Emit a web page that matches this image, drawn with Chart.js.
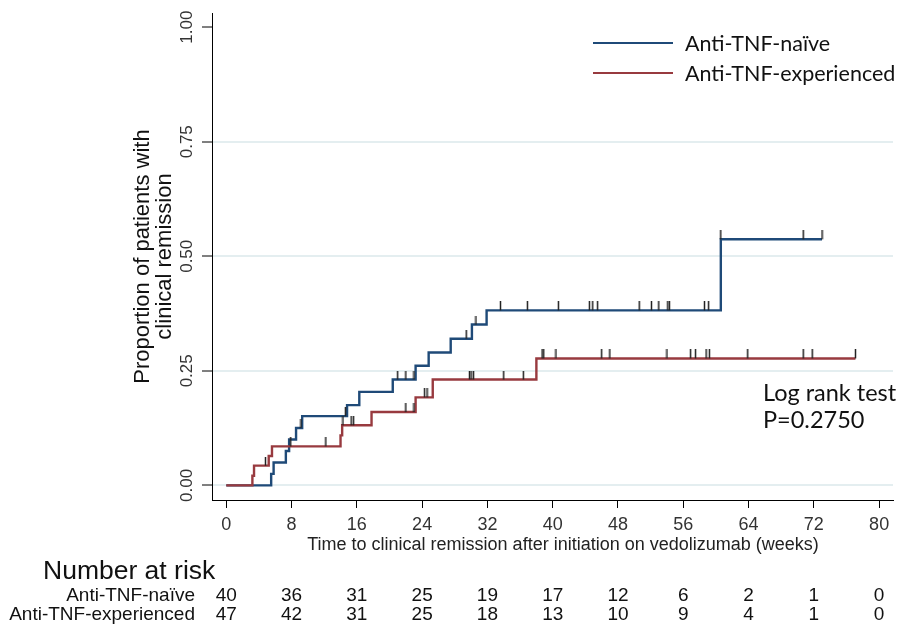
<!DOCTYPE html>
<html>
<head>
<meta charset="utf-8">
<script src="https://cdn.jsdelivr.net/npm/chart.js@4.4.0/dist/chart.umd.min.js"></script>
<style>
html, body { margin: 0; padding: 0; background: #fff; }
#wrap { width: 904px; height: 624px; }
</style>
</head>
<body>
<div id="wrap"><canvas id="myChart"></canvas></div>
<script>
// Kaplan-Meier steps (time in weeks, cumulative proportion in remission)
var naiveTimes  = [0, 5.5, 5.8, 7.3, 7.7, 8.55, 9.3, 14.8, 16.3, 20.4, 23.2, 24.8, 27.5, 30.1, 31.9, 60.6, 73.0];
var naiveValues = [0, 0.025, 0.05, 0.075, 0.10, 0.125, 0.151, 0.175, 0.204, 0.231, 0.261, 0.29, 0.32, 0.351, 0.382, 0.537, 0.537];
var expTimes  = [0, 3.2, 3.4, 5.2, 5.6, 14.0, 14.2, 17.8, 23.2, 25.3, 38.0, 77.1];
var expValues = [0, 0.021, 0.043, 0.064, 0.085, 0.109, 0.131, 0.160, 0.192, 0.231, 0.277, 0.277];

// censored observations
var naiveCensorTimes  = [9.15, 14.6, 21.0, 22.0, 23.0, 29.4, 30.6, 33.6, 36.9, 40.7, 44.5, 44.9, 45.5, 50.6, 52.1, 53.0, 54.1, 54.3, 58.6, 59.1, 60.6, 70.7, 73.0];
var naiveCensorValues = [0.125, 0.151, 0.231, 0.231, 0.231, 0.32, 0.351, 0.382, 0.382, 0.382, 0.382, 0.382, 0.382, 0.382, 0.382, 0.382, 0.382, 0.382, 0.382, 0.382, 0.537, 0.537, 0.537];
var expCensorTimes  = [4.8, 7.9, 12.2, 14.3, 15.3, 15.6, 22.0, 23.0, 24.3, 24.6, 29.8, 30.0, 30.3, 34.0, 36.4, 38.7, 38.9, 40.4, 46.0, 47.0, 54.0, 56.9, 57.5, 58.8, 59.2, 63.9, 70.7, 71.8, 77.1];
var expCensorValues = [0.043, 0.085, 0.085, 0.131, 0.131, 0.131, 0.160, 0.160, 0.192, 0.192, 0.231, 0.231, 0.231, 0.231, 0.231, 0.277, 0.277, 0.277, 0.277, 0.277, 0.277, 0.277, 0.277, 0.277, 0.277, 0.277, 0.277, 0.277, 0.277];

var xTicks = [0, 8, 16, 24, 32, 40, 48, 56, 64, 72, 80];
var yTicks = [0, 0.25, 0.5, 0.75, 1];
var riskNaive = [40, 36, 31, 25, 19, 17, 12, 6, 2, 1, 0];
var riskExp   = [47, 42, 31, 25, 18, 13, 10, 9, 4, 1, 0];

var seriesLabels = ['Anti-TNF-naïve', 'Anti-TNF-experienced'];
var xTitle = 'Time to clinical remission after initiation on vedolizumab (weeks)';
var blue = '#1f4a78';
var red = '#983a3f';
var armFont = "'Liberation Sans', Arial, sans-serif";
var noteFont = "Lato, 'Open Sans', sans-serif";

function toPoints(xs, ys) {
    return xs.map(function(x, i) { return { x: x, y: ys[i] }; });
}

// small vertical tick drawn above the point
var censorMark = document.createElement('canvas');
censorMark.width = 3;
censorMark.height = 18;
(function() {
    var c = censorMark.getContext('2d');
    c.fillStyle = '#222';
    c.fillRect(0.75, 0, 1.5, 9);
})();

var extras = {
    id: 'extras',
    afterDraw: function(chart) {
        var ctx = chart.ctx;
        var xs = chart.scales.x;
        var ys = chart.scales.y;
        ctx.save();

        // rotated y tick labels
        ctx.fillStyle = '#333';
        ctx.font = '17px ' + armFont;
        ctx.textAlign = 'center';
        ctx.textBaseline = 'middle';
        yTicks.forEach(function(v) {
            var py = ys.getPixelForValue(v);
            ctx.save();
            ctx.translate(187, py);
            ctx.rotate(-Math.PI / 2);
            ctx.fillText(v.toFixed(2), 0, 0);
            ctx.restore();
        });

        // x axis title
        ctx.fillStyle = '#222';
        ctx.font = '18px ' + armFont;
        ctx.fillText(xTitle, 563, 545);

        // legend
        var ds = chart.data.datasets;
        var legY = [43, 73];
        ctx.font = '21.5px ' + noteFont;
        ctx.textAlign = 'left';
        ctx.textBaseline = 'middle';
        for (var i = 0; i < 2; i++) {
            ctx.strokeStyle = ds[i].borderColor;
            ctx.lineWidth = 2;
            ctx.beginPath();
            ctx.moveTo(593, legY[i]);
            ctx.lineTo(673, legY[i]);
            ctx.stroke();
            ctx.fillStyle = '#111';
            ctx.fillText(ds[i].label, 685, legY[i] + 1);
        }

        // log rank annotation
        ctx.font = '23.5px ' + noteFont;
        ctx.textBaseline = 'alphabetic';
        ctx.fillText('Log rank test', 763, 401);
        ctx.fillText('P=0.2750', 763, 428);

        // number at risk table
        ctx.fillStyle = '#111';
        ctx.font = '26.5px ' + armFont;
        ctx.textAlign = 'left';
        ctx.fillText('Number at risk', 43, 579);
        ctx.font = '19px ' + armFont;
        ctx.textAlign = 'right';
        ctx.fillText(seriesLabels[0], 195, 601);
        ctx.fillText(seriesLabels[1], 195, 620);
        ctx.textAlign = 'center';
        xTicks.forEach(function(t, i) {
            var px = xs.getPixelForValue(t);
            ctx.fillText(String(riskNaive[i]), px, 601);
            ctx.fillText(String(riskExp[i]), px, 620);
        });
        ctx.restore();
    }
};

var ctx = document.getElementById('myChart').getContext('2d');
var chart = new Chart(ctx, {
    type: 'line',
    data: {
        datasets: [{
            label: seriesLabels[0],
            data: toPoints(naiveTimes, naiveValues),
            borderColor: blue,
            borderWidth: 2.4,
            stepped: 'before',
            pointRadius: 0,
            fill: false,
            order: 3
        }, {
            label: seriesLabels[1],
            data: toPoints(expTimes, expValues),
            borderColor: red,
            borderWidth: 2.4,
            stepped: 'before',
            pointRadius: 0,
            fill: false,
            order: 2
        }, {
            type: 'scatter',
            label: 'censored naive',
            data: toPoints(naiveCensorTimes, naiveCensorValues),
            pointStyle: censorMark,
            pointRadius: 3,
            showLine: false,
            order: 1
        }, {
            type: 'scatter',
            label: 'censored experienced',
            data: toPoints(expCensorTimes, expCensorValues),
            pointStyle: censorMark,
            pointRadius: 3,
            showLine: false,
            order: 0
        }]
    },
    options: {
        responsive: true,
        maintainAspectRatio: false,
        animation: false,
        layout: {
            padding: { left: 100, right: 11, top: 13, bottom: 82 }
        },
        scales: {
            x: {
                type: 'linear',
                min: -1.75,
                max: 81.7,
                afterBuildTicks: function(scale) {
                    scale.ticks = xTicks.map(function(v) { return { value: v }; });
                },
                grid: {
                    drawOnChartArea: false,
                    tickLength: 8,
                    tickColor: '#000',
                    tickWidth: 1
                },
                border: { display: true, color: '#000', width: 1 },
                ticks: {
                    color: '#333',
                    padding: 8,
                    maxRotation: 0,
                    font: { family: armFont, size: 18, lineHeight: 1.0 }
                },
                title: { display: false }
            },
            y: {
                type: 'linear',
                min: -0.032,
                max: 1.031,
                afterBuildTicks: function(scale) {
                    scale.ticks = yTicks.map(function(v) { return { value: v }; });
                },
                grid: {
                    color: function(c) {
                        return c.tick && c.tick.value === 1 ? 'rgba(0,0,0,0)' : '#e4eef0';
                    },
                    lineWidth: 2,
                    tickLength: 10,
                    tickColor: '#000',
                    tickWidth: 1
                },
                border: { display: true, color: '#000', width: 1 },
                ticks: { display: false },
                title: {
                    display: true,
                    text: ['Proportion of patients with', 'clinical remission'],
                    color: '#111',
                    padding: { top: 32, bottom: 26 },
                    font: { family: armFont, size: 22, lineHeight: 1.0 }
                }
            }
        },
        plugins: {
            legend: { display: false },
            tooltip: { enabled: false }
        }
    },
    plugins: [extras]
});
</script>
</body>
</html>
